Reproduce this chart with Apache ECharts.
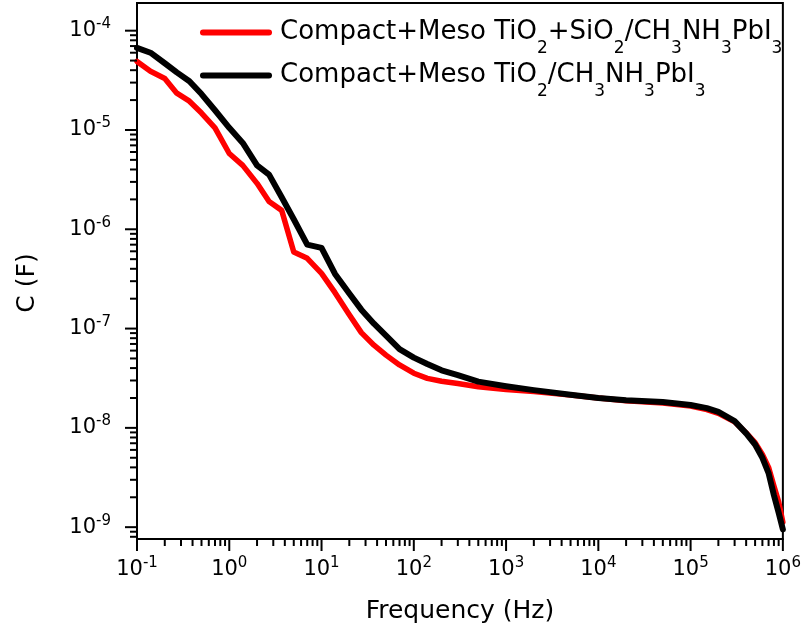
<!DOCTYPE html>
<html>
<head>
<meta charset="utf-8">
<script src="https://cdn.jsdelivr.net/npm/echarts@6/dist/echarts.min.js"></script>
<style>
  html, body { margin: 0; padding: 0; background: #fff; }
  #chart { width: 804px; height: 629px; }
</style>
</head>
<body>
<div id="chart"></div>
<script>
// frequency points (Hz)
const freq = [0.1, 0.14, 0.2, 0.27, 0.37, 0.5, 0.7, 1, 1.4, 2, 2.7, 3.7, 5, 7, 10, 14, 20, 27, 37, 50, 70,
  100, 140, 200, 300, 500, 1e3, 2e3, 5e3, 1e4, 2e4, 5e4, 1e5, 1.5e5, 2e5, 3e5, 4e5, 5e5, 6e5, 7e5, 8e5, 9e5, 1e6];

// Compact+Meso TiO2+SiO2/CH3NH3PbI3 (red)
const capSiO2 = [4.9e-5, 3.9e-5, 3.3e-5, 2.35e-5, 1.95e-5, 1.48e-5, 1.05e-5, 5.8e-6, 4.4e-6, 2.9e-6, 1.9e-6, 1.55e-6,
  5.9e-7, 5.1e-7, 3.6e-7, 2.3e-7, 1.38e-7, 9.1e-8, 6.8e-8, 5.4e-8, 4.3e-8,
  3.55e-8, 3.15e-8, 2.95e-8, 2.8e-8, 2.6e-8, 2.43e-8, 2.32e-8, 2.14e-8, 2.0e-8, 1.88e-8, 1.78e-8, 1.66e-8,
  1.53e-8, 1.4e-8, 1.15e-8, 8.9e-9, 7.1e-9, 5.4e-9, 4.0e-9, 2.6e-9, 1.8e-9, 1.12e-9];

// Compact+Meso TiO2/CH3NH3PbI3 (black)
const capTiO2 = [6.7e-5, 6.0e-5, 4.7e-5, 3.8e-5, 3.1e-5, 2.3e-5, 1.58e-5, 1.05e-5, 7.4e-6, 4.4e-6, 3.55e-6, 2.1e-6,
  1.26e-6, 7.0e-7, 6.5e-7, 3.55e-7, 2.25e-7, 1.55e-7, 1.12e-7, 8.5e-8, 6.2e-8,
  5.1e-8, 4.4e-8, 3.8e-8, 3.4e-8, 2.92e-8, 2.63e-8, 2.4e-8, 2.16e-8, 2.0e-8, 1.9e-8, 1.82e-8, 1.7e-8,
  1.58e-8, 1.45e-8, 1.17e-8, 8.8e-9, 6.8e-9, 5.0e-9, 3.5e-9, 2.1e-9, 1.4e-9, 9.5e-10];

const seriesNames = ['Compact+Meso TiO2+SiO2/CH3NH3PbI3', 'Compact+Meso TiO2/CH3NH3PbI3'];
const seriesColors = ['#ff0000', '#000000'];

const xMin = 0.1, xMax = 1e6;
const yMin = 7.6e-10, yMax = 1.9e-4;
const minorMult = [2, 3, 4, 5, 6, 7, 8, 9];

const FONT = 'DejaVu Sans';

// major + minor tick values for the log axes
function logTicks(lo, hi) {
  const out = [];
  for (let k = Math.floor(Math.log10(lo)); k <= Math.ceil(Math.log10(hi)); k++) {
    const base = Math.pow(10, k);
    if (base >= lo * 0.999 && base <= hi * 1.001) out.push([base, 1]);
    minorMult.forEach(m => {
      const v = m * base;
      if (v >= lo && v <= hi) out.push([v, 0]);
    });
  }
  return out;
}

function isPow10(v) {
  const e = Math.log10(v);
  return Math.abs(e - Math.round(e)) < 1e-6;
}

function powLabel(v) {
  if (!isPow10(v)) return '';
  return '{b|10}{e|' + Math.round(Math.log10(v)) + '}';
}

function legendLabel(name) {
  return '{m|' + name.replace(/(\d)/g, '}{s|$1}{m|') + '}';
}

const labelRich = {
  b: { fontFamily: FONT, fontSize: 21, lineHeight: 28, color: '#000' },
  e: { fontFamily: FONT, fontSize: 15, lineHeight: 15, padding: [0, 0, 13, 0], color: '#000' }
};

const chart = echarts.init(document.getElementById('chart'));

const xTickData = logTicks(xMin, xMax).map(t => [t[0], 1e-8, t[1]]);
const yTickData = logTicks(yMin, yMax).map(t => [1, t[0], t[1]]);

const option = {
  animation: false,
  backgroundColor: '#fff',
  grid: {
    left: 137, right: 15, top: 3, bottom: 90,
    show: true, borderColor: '#000', borderWidth: 2, backgroundColor: 'transparent'
  },
  legend: {
    orient: 'vertical',
    left: 195,
    top: 3,
    itemWidth: 72,
    itemHeight: 6,
    itemGap: -6,
    data: seriesNames,
    icon: 'path://M3,0H69A3,3 0 0 1 69,6H3A3,3 0 0 1 3,0Z',
    formatter: legendLabel,
    textStyle: {
      padding: [0, 0, 0, 3],
      rich: {
        m: { fontFamily: FONT, fontSize: 26, lineHeight: 26, color: '#000' },
        s: { fontFamily: FONT, fontSize: 17, lineHeight: 17, padding: [32, 0, 0, 0], color: '#000' }
      }
    }
  },
  xAxis: {
    type: 'log',
    logBase: 10,
    min: xMin,
    max: xMax,
    name: 'Frequency (Hz)',
    nameLocation: 'middle',
    nameGap: 60,
    nameTextStyle: { fontFamily: FONT, fontSize: 25, color: '#000' },
    axisLine: { show: true, lineStyle: { color: '#000', width: 2 } },
    axisTick: { show: false },
    minorTick: { show: false },
    splitLine: { show: false },
    axisLabel: { margin: 17, formatter: powLabel, rich: labelRich, showMinLabel: true, showMaxLabel: true }
  },
  yAxis: {
    type: 'log',
    logBase: 10,
    min: yMin,
    max: yMax,
    name: 'C (F)',
    nameLocation: 'middle',
    nameGap: 97,
    nameTextStyle: { fontFamily: FONT, fontSize: 25, color: '#000', padding: [0, 24, 0, 0] },
    axisLine: { show: true, lineStyle: { color: '#000', width: 2 } },
    axisTick: { show: false },
    minorTick: { show: false },
    splitLine: { show: false },
    axisLabel: { margin: 26, formatter: powLabel, rich: labelRich }
  },
  series: [
    {
      name: seriesNames[0],
      type: 'line',
      data: freq.map((f, i) => [f, capSiO2[i]]),
      symbol: 'none',
      color: seriesColors[0],
      lineStyle: { width: 5.5, color: seriesColors[0], join: 'round', cap: 'round' },
      z: 3
    },
    {
      name: seriesNames[1],
      type: 'line',
      data: freq.map((f, i) => [f, capTiO2[i]]),
      symbol: 'none',
      color: seriesColors[1],
      lineStyle: { width: 6, color: seriesColors[1], join: 'round', cap: 'round' },
      z: 4
    },
    {
      // x axis ticks (outside, major + minor)
      type: 'custom',
      silent: true,
      clip: false,
      encode: { x: 0, y: 1 },
      data: xTickData,
      renderItem: (params, api) => {
        const p = api.coord([api.value(0), api.value(1)]);
        const y0 = params.coordSys.y + params.coordSys.height;
        const len = api.value(2) ? 12 : 7;
        return {
          type: 'line',
          shape: { x1: p[0], y1: y0, x2: p[0], y2: y0 + len },
          style: { stroke: '#000', lineWidth: 2 }
        };
      },
      z: 5
    },
    {
      // y axis ticks
      type: 'custom',
      silent: true,
      clip: false,
      encode: { x: 0, y: 1 },
      data: yTickData,
      renderItem: (params, api) => {
        const p = api.coord([api.value(0), api.value(1)]);
        const x0 = params.coordSys.x;
        const len = api.value(2) ? 12 : 7;
        return {
          type: 'line',
          shape: { x1: x0, y1: p[1], x2: x0 - len, y2: p[1] },
          style: { stroke: '#000', lineWidth: 2 }
        };
      },
      z: 5
    }
  ]
};

chart.setOption(option);
</script>
</body>
</html>
